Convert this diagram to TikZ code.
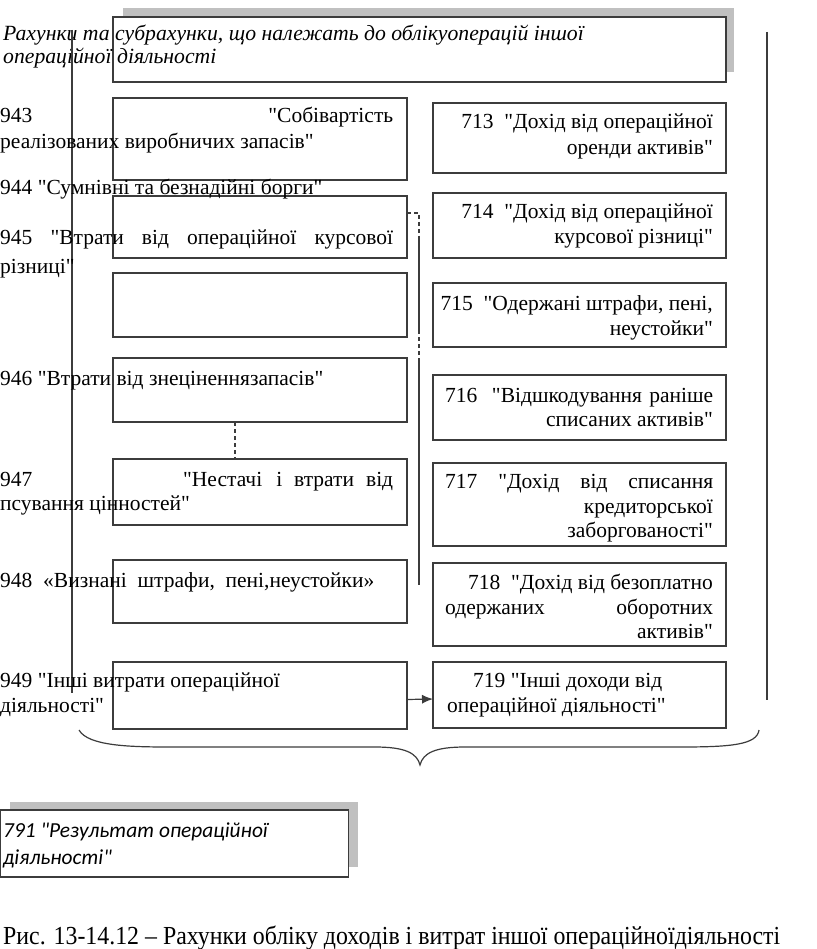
\documentclass[tikz,border=0pt]{standalone}
\usepackage{fontspec}
\usepackage{graphicx}
\setmainfont{Liberation Serif}[Ligatures=TeXOff]
\newfontfamily\calibfont{Carlito}[Ligatures=TeXOff]
\usetikzlibrary{arrows.meta}
\definecolor{shadowgray}{RGB}{192,192,192}
\definecolor{edge}{RGB}{60,60,60}
\tikzset{
  box/.style={draw=edge, line width=1.3pt, fill=white, inner sep=0pt, outer sep=0pt, anchor=north west},
  shadowbox/.style={fill=shadowgray, draw=none, inner sep=0pt, outer sep=0pt, anchor=north west},
  ltext/.style={anchor=base west, inner sep=0pt, font=\fontsize{21.5}{25}\selectfont},
  rtext/.style={anchor=base east, inner sep=0pt, font=\fontsize{21.5}{25}\selectfont},
  ttext/.style={anchor=base west, inner sep=0pt, font=\fontsize{21.7}{25}\selectfont\itshape},
  ctext/.style={anchor=base west, inner sep=0pt, font=\fontsize{21.4}{25}\selectfont\calibfont\itshape},
  vline/.style={draw=edge, line width=1.3pt},
  dashline/.style={draw=edge, line width=1.1pt, dashed, dash pattern=on 4pt off 3pt},
  conn/.style={draw=edge, line width=1.2pt}
}
\begin{document}
\begin{tikzpicture}[x=1pt,y=-1pt]
\useasboundingbox (0,0) rectangle (816,949);
% title
\node[shadowbox, minimum width=611pt, minimum height=64pt] (tsh) at (123,8) {};
\node[box, minimum width=613pt, minimum height=65pt] (title) at (113,17) {};
\node[ttext] (tt1) at (3,41) {Рахунки та субрахунки, що належать до облікуоперацій іншої};
\node[ttext] (tt2) at (3,64) {операційної діяльності};
% vertical lines
\draw[vline] (72,30) -- (72,693);
\draw[vline] (767,32) -- (767,700);
% left boxes
\node[box, minimum width=294pt, minimum height=82pt] (b943) at (113,98) {};
\node[box, minimum width=294pt, minimum height=62pt] (b944) at (113,196) {};
\node[box, minimum width=294pt, minimum height=64pt] (bempty) at (113,273) {};
\node[box, minimum width=294pt, minimum height=64pt] (b946) at (113,358) {};
\node[box, minimum width=294pt, minimum height=66pt] (b947) at (113,459) {};
\node[box, minimum width=294pt, minimum height=63pt] (b948) at (113,560) {};
\node[box, minimum width=294pt, minimum height=67pt] (b949) at (113,662) {};
% right boxes
\node[box, minimum width=293pt, minimum height=70pt] (b713) at (433,103) {};
\node[box, minimum width=293pt, minimum height=65pt] (b714) at (433,193) {};
\node[box, minimum width=293pt, minimum height=64pt] (b715) at (433,283) {};
\node[box, minimum width=293pt, minimum height=65pt] (b716) at (433,375) {};
\node[box, minimum width=293pt, minimum height=83pt] (b717) at (433,463) {};
\node[box, minimum width=293pt, minimum height=83pt] (b718) at (433,563) {};
\node[box, minimum width=293pt, minimum height=66pt] (b719) at (433,662) {};
% left texts
\node[ltext] (l1) at (0,123) {\makebox[393pt][s]{943\hfill"Собівартість}};
\node[ltext] (l2) at (0,149) {реалізованих виробничих запасів"};
\node[ltext] (l3) at (0,195) {944 "Сумнівні та безнадійні борги"};
\node[ltext] (l4) at (0,245) {\makebox[393pt][s]{945 "Втрати від операційної курсової}};
\node[ltext] (l5) at (0,273) {різниці"};
\node[ltext] (l6) at (0,385) {946 "Втрати від знеціненнязапасів"};
\node[ltext] (l7) at (0,486) {\makebox[393pt][s]{947\hfill"Нестачі\hspace{14pt}і\hspace{12pt}втрати\hspace{12pt}від}};
\node[ltext] (l8) at (0,510) {псування цінностей"};
\node[ltext] (l9) at (0,587) {948\ \ «Визнані\ \ штрафи,\ \ пені,неустойки»};
\node[ltext] (l10) at (0,687) {949 "Інші витрати операційної};
\node[ltext] (l11) at (0,712) {діяльності"};
% right texts
\node[rtext] (r1) at (713,129) {713\ \ "Дохід від операційної};
\node[rtext] (r2) at (713,155) {оренди активів"};
\node[rtext] (r3) at (713,219) {714\ \ "Дохід від операційної};
\node[rtext] (r4) at (713,244) {курсової різниці"};
\node[rtext] (r5) at (713,310) {715\ \ "Одержані штрафи, пені,};
\node[rtext] (r6) at (713,335) {неустойки"};
\node[ltext] (r7) at (445,402) {\makebox[268pt][s]{716\ \ "Відшкодування раніше}};
\node[rtext] (r8) at (713,426) {списаних активів"};
\node[ltext] (r9) at (445,488) {\makebox[268pt][s]{717 "Дохід від списання}};
\node[rtext] (r10) at (713,513) {кредиторської};
\node[rtext] (r11) at (713,537) {заборгованості"};
\node[rtext] (r12) at (713,589) {718\ \ "Дохід від безоплатно};
\node[ltext] (r13) at (445,614) {\makebox[268pt][s]{одержаних оборотних}};
\node[rtext] (r14) at (713,638) {активів"};
\node[ltext] (r15) at (473,687) {719 "Інші доходи від};
\node[ltext] (r16) at (447,712) {операційної діяльності"};
% connectors
\coordinate (d1) at (419,213);
\coordinate (d2) at (419,236);
\coordinate (d3) at (419,330);
\coordinate (d4) at (419,362);
\coordinate (d5) at (419,585);
\draw[dashline] ([yshift=-17pt]b944.north east) -- (d1) -- (d2);
\draw[conn] (d2) -- (d3);
\draw[dashline] (d3) -- (d4);
\draw[conn] (d4) -- (d5);
\draw[dashline] ([xshift=-25pt]b946.south) -- ([xshift=-25pt]b947.north);
\draw[conn, -{Latex[length=11pt,width=9pt]}] ([yshift=-4pt]b949.east) -- ([yshift=-4pt]b719.west);
% brace
\coordinate (brL) at (79,730);
\coordinate (brR) at (759,730);
\coordinate (brT) at (420,765);
\draw[conn] (brL) .. controls (88,746) and (130,747) .. (170,747) -- (375,747)
  .. controls (405,747) and (417,753) .. (brT)
  .. controls (423,753) and (435,747) .. (465,747) -- (680,747)
  .. controls (730,747) and (757,745) .. (brR);
% result box
\node[shadowbox, minimum width=348pt, minimum height=65pt] (rsh) at (10,802) {};
\node[box, minimum width=348pt, minimum height=67pt] (b791) at (0.8,810) {};
\node[ctext] (c1) at (3,837) {791 "Результат операційної};
\node[ctext] (c2) at (3,864) {діяльності"};
% caption
\node[anchor=base west, inner sep=0pt, font=\fontsize{26}{30}\selectfont] (cap) at (3,944)
  {\resizebox{777pt}{\height}{Рис. 13-14.12 – Рахунки обліку доходів і витрат іншої операційноїдіяльності}};
\end{tikzpicture}
\end{document}
